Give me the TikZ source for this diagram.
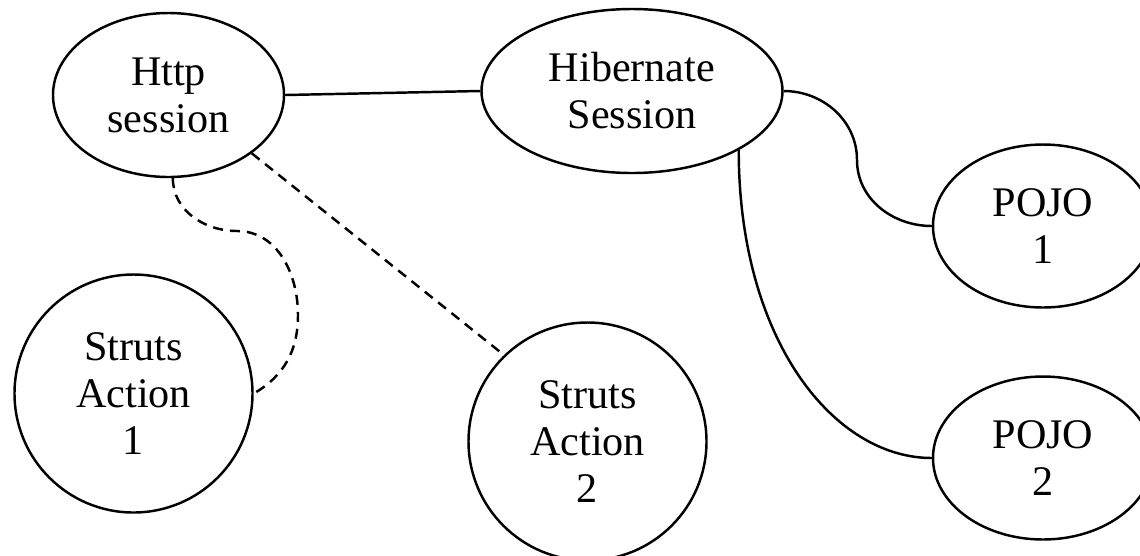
\documentclass[tikz,border=0pt]{standalone}
\usepackage{fontspec}
\setmainfont{Liberation Serif}
\usepackage{tikz}
\usetikzlibrary{shapes.geometric}
\tikzset{every picture/.style={line width=1.4pt}}
\tikzset{
  oval/.style={draw, ellipse, inner sep=0pt, align=center},
  roundbox/.style={draw, circle, inner sep=0pt, align=center, minimum size=4.76cm},
  link/.style={line width=1.4pt},
  weaklink/.style={line width=1.4pt, dash pattern=on 5.7pt off 4pt}
}

\begin{document}
\begin{tikzpicture}[font=\fontsize{24}{26.7}\selectfont]
\useasboundingbox (0,0) rectangle (22.8,-11.1);
\node[oval, minimum width=4.62cm, minimum height=3.28cm] (0) at (3.37,-1.90) {Http\\session};
\node[oval, minimum width=6.02cm, minimum height=3.28cm] (1) at (12.64,-1.82) {Hibernate\\Session};
\node[oval, minimum width=4.4cm, minimum height=3.26cm] (2) at (20.86,-4.52) {POJO\\1};
\node[oval, minimum width=4.4cm, minimum height=3.26cm] (3) at (20.86,-9.16) {POJO\\2};
\node[roundbox] (4) at (2.67,-7.87) {Struts\\Action\\1};
\node[roundbox] (5) at (11.75,-8.83) {Struts\\Action\\2};
%
\coordinate (b1) at (17.14,-3.20);
\coordinate (d1) at (4.74,-4.62);
\coordinate (d2) at (5.96,-6.30);
%
\draw [link] (0.east) -- (1.west);
\draw [link] (1.east) to[out=0,in=90] (b1) to[out=-90,in=180] (2.west);
\draw [link] (1.-29) .. controls +(0,-3.8) and +(-1.96,0) .. (3.west);
%
\draw [weaklink] (0.-35) -- (5.134);
\draw [weaklink] (0.-87) to[out=-90,in=180] (d1) to[out=0,in=90] (d2) to[out=-90,in=30] (4.east);
\end{tikzpicture}
\end{document}
